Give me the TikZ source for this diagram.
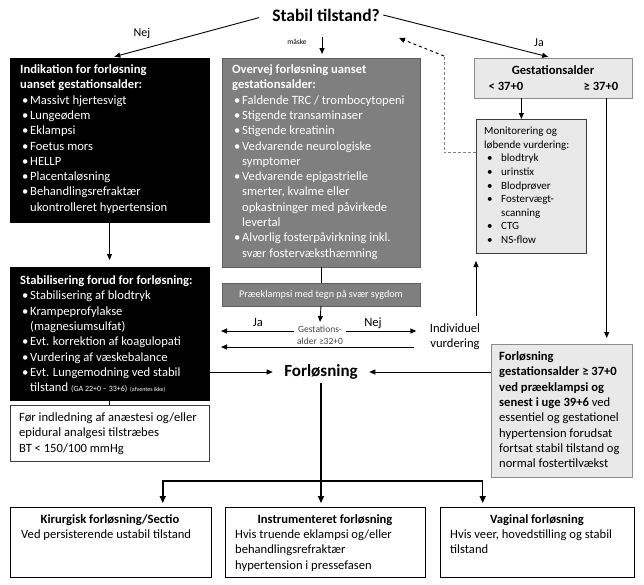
\documentclass[tikz,border=0pt]{standalone}
\usepackage{fontspec}
\setmainfont{Carlito}
\usepackage{tikz}
\usetikzlibrary{arrows.meta,calc}
\definecolor{midgrey}{RGB}{127,127,127}
\definecolor{midborder}{RGB}{95,95,95}
\definecolor{lightgrey}{RGB}{233,233,233}
\definecolor{lightborder}{RGB}{140,140,140}
\definecolor{darkline}{RGB}{60,60,60}
\definecolor{gatext}{RGB}{70,70,70}
\newcommand{\tekst}{\fontsize{12.6}{15.3}\selectfont}
\newcommand{\lille}{\fontsize{11}{13.6}\selectfont}
\newcommand{\pkt}{\hspace*{2pt}\makebox[8pt][l]{\textbullet}}
\newcommand{\ryk}{\hspace*{10pt}}
\newcommand{\mpkt}{\hspace*{3pt}\makebox[14pt][l]{\textbullet}}
\newcommand{\mryk}{\hspace*{17pt}}

\begin{document}
\begin{tikzpicture}[x=1pt,y=-1pt]
\tikzset{box/.style={anchor=north west,inner sep=0pt,outer sep=0pt},
  sortboks/.style={box,fill=black,draw=black},
  graaboks/.style={box,fill=midgrey,draw=midborder,line width=0.6pt},
  lysboks/.style={box,fill=lightgrey,draw=lightborder,line width=0.6pt},
  hvidboks/.style={box,fill=white,draw=darkline,line width=0.6pt},
  txt/.style={anchor=north west,inner sep=0pt,align=left,font=\tekst},
  pil/.style={-{Triangle[length=6pt,width=5pt]},line width=0.9pt},
  tykpil/.style={-{Triangle[length=7pt,width=6pt]},line width=1.6pt}}
\useasboundingbox[fill=white] (0,0) rectangle (644,584);
% Kasser
\node [font=\fontsize{17.5}{20}\selectfont\bfseries] (tilstand) at (326,15) {Stabil tilstand?};
\node [sortboks,minimum width=199pt,minimum height=164pt] (indik) at (10,58) {};
\node [txt,text=white] (indikT) at ($(indik.north west)+(10,6.5)$) {\textbf{Indikation for forløsning}\\
  \textbf{uanset gestationsalder:}\\ \pkt Massivt hjertesvigt\\ \pkt Lungeødem\\ \pkt Eklampsi\\
  \pkt Foetus mors\\ \pkt HELLP\\ \pkt Placentaløsning\\ \pkt Behandlingsrefraktær\\
  \ryk ukontrolleret hypertension};
\node [sortboks,minimum width=199pt,minimum height=133pt] (stabil) at (10,267) {};
\node [txt,text=white] (stabilT) at ($(stabil.north west)+(10,8.5)$) {\textbf{Stabilisering forud for forløsning:}\\
  \pkt Stabilisering af blodtryk\\ \pkt Krampeprofylakse\\ \ryk (magnesiumsulfat)\\
  \pkt Evt. korrektion af koagulopati\\ \pkt Vurdering af væskebalance\\
  \pkt Evt. Lungemodning ved stabil\\
  \ryk tilstand {\fontsize{8}{9}\selectfont (GA 22+0 – 33+6)} {\fontsize{6}{7}\selectfont (afventes ikke)}};
\node [hvidboks,minimum width=199pt,minimum height=56pt] (foer) at (10,405) {};
\node [txt] (foerT) at ($(foer.north west)+(9,7.5)$) {Før indledning af anæstesi og/eller\\
  epidural analgesi tilstræbes\\ BT < 150/100 mmHg};
\node [graaboks,minimum width=198pt,minimum height=209pt] (overvej) at (222,58) {};
\node [txt,text=white] (overvejT) at ($(overvej.north west)+(10,6.5)$) {\textbf{Overvej forløsning uanset}\\
  \textbf{gestationsalder:}\\ \pkt Faldende TRC / trombocytopeni\\ \pkt Stigende transaminaser\\
  \pkt Stigende kreatinin\\ \pkt Vedvarende neurologiske\\ \ryk symptomer\\
  \pkt Vedvarende epigastrielle\\ \ryk smerter, kvalme eller\\ \ryk opkastninger med påvirkede\\
  \ryk levertal\\ \pkt Alvorlig fosterpåvirkning inkl.\\ \ryk svær fostervæksthæmning};
\node [graaboks,minimum width=198pt,minimum height=23pt,text=white,font=\fontsize{10.2}{11}\selectfont] (praek) at (222,283) {Præeklampsi med tegn på svær sygdom};
\node [lysboks,minimum width=158pt,minimum height=40pt] (gest) at (474,58) {};
\node [font=\tekst\bfseries] (gestT) at (553,70) {Gestationsalder};
\node [font=\tekst\bfseries] (lav) at (506,86) {< 37+0};
\node [font=\tekst\bfseries] (hoej) at (601,86) {≥ 37+0};
\node [lysboks,draw=darkline,minimum width=110pt,minimum height=134pt] (monit) at (476,119) {};
\node [txt,font=\lille] (monitT) at ($(monit.north west)+(8,8)$) {Monitorering og\\ løbende vurdering:\\
  \mpkt blodtryk\\ \mpkt urinstix\\ \mpkt Blodprøver\\ \mpkt Fostervægt-\\ \mryk scanning\\
  \mpkt CTG\\ \mpkt NS-flow};
\node [lysboks,minimum width=141pt,minimum height=133pt] (forlgr) at (491,344) {};
\node [txt] (forlgrT) at ($(forlgr.north west)+(8,7.5)$) {\textbf{Forløsning}\\
  \textbf{gestationsalder ≥ 37+0}\\ \textbf{ved præeklampsi og}\\ \textbf{senest i uge 39+6} ved\\
  essentiel og gestationel\\ hypertension forudsat\\ fortsat stabil tilstand og\\ normal fostertilvækst};
\node [font=\fontsize{17}{20}\selectfont\bfseries] (forl) at (321,372) {Forløsning};
\node [hvidboks,draw=black,minimum width=201pt,minimum height=70pt] (kir) at (10,507) {};
\node [font=\tekst\bfseries] (kirT) at (110,520) {Kirurgisk forløsning/Sectio};
\node [txt] (kirB) at (21,529.5) {Ved persisterende ustabil tilstand};
\node [hvidboks,draw=black,minimum width=200pt,minimum height=70pt] (instr) at (225,507) {};
\node [font=\tekst\bfseries] (instrT) at (325,520) {Instrumenteret forløsning};
\node [txt] (instrB) at (235,529.5) {Hvis truende eklampsi og/eller\\ behandlingsrefraktær\\ hypertension i pressefasen};
\node [hvidboks,draw=black,minimum width=194pt,minimum height=70pt] (vag) at (440,507) {};
\node [font=\tekst\bfseries] (vagT) at (537,520) {Vaginal forløsning};
\node [txt] (vagB) at (450,529.5) {Hvis veer, hovedstilling og stabil\\ tilstand};
% Tekster ved pilene
\node [font=\fontsize{12}{13}\selectfont] (nejTop) at (142,33) {Nej};
\node [font=\fontsize{12}{13}\selectfont] (jaTop) at (539,43) {Ja};
\node [font=\fontsize{7.5}{9}\selectfont] (maskeT) at (297,42) {måske};
\node [font=\fontsize{9.5}{12.5}\selectfont,align=center,text=gatext] (ga) at (320,335) {Gestations-\\ alder ≥32+0};
\node [font=\tekst] (jaMid) at (258,322) {Ja};
\node [font=\tekst] (nejMid) at (373,323) {Nej};
\node [font=\tekst,align=center] (indiv) at (455,337) {Individuel\\ vurdering};
% Pile
\coordinate (maske) at (322,37);
\coordinate (stiplet) at (444,56);
\coordinate (stipletspids) at (399,38);
\coordinate (under) at ($(gest.south west)!0.3!(gest.south east)$);
\coordinate (over) at ($(gest.south west)!0.84!(gest.south east)$);
\coordinate (split) at (321,481);
\coordinate (kirP) at ($(kir.north west)!0.76!(kir.north east)$);
\coordinate (vagP) at ($(vag.north west)!0.22!(vag.north east)$);
\draw [pil,shorten <=10pt,shorten >=5pt] (tilstand.west) -- (indik.north);
\draw [pil,shorten >=5pt] (tilstand.east) -- (gest.north);
\draw [pil,shorten >=4pt] (maske) -- (maske |- overvej.north);
\draw [densely dashed,gray,line width=0.6pt] ($(monit.north west)!0.25!(monit.south west)$) -| (stiplet);
\draw [dashed,line width=1pt,-{Triangle[length=6pt,width=5pt]}] (stiplet) -- (stipletspids);
\draw [pil] (under) -- (under |- monit.north);
\draw [pil,shorten >=6pt] (over) -- (over |- forlgr.north);
\draw [pil,shorten <=4pt,shorten >=8pt] (monit.south west |- indiv.north) -- (monit.south west);
\draw [pil,shorten >=7pt] (indik.south) -- (stabil.north);
\draw [line width=0.6pt] (stabil.south) -- (foer.north);
\draw [line width=0.9pt] (overvej.south) -- (praek.north);
\draw [pil] (praek.south) -- (ga.north);
\draw [pil,shorten >=12pt] ([yshift=4pt]ga.west) -- ([yshift=4pt]ga.west -| stabil.east);
\draw [pil,shorten >=10pt] ([yshift=4pt]ga.east) -- ([yshift=4pt]ga.east -| indiv.west);
\draw [pil,shorten <=12pt,shorten >=12pt] ([yshift=-10pt]indiv.west) -- ([yshift=-10pt]indiv.west -| stabil.east);
\draw [pil,shorten >=8pt] (stabil.east |- forl.west) -- (forl.west);
\draw [pil,shorten >=8pt] (forlgr.west |- forl.east) -- (forl.east);
\draw [line width=1.6pt] (forl.south) -- (split);
\draw [tykpil,shorten >=4pt] (split) -| (kirP);
\draw [tykpil,shorten >=4pt] (split) -- (split |- instr.north);
\draw [tykpil,shorten >=4pt] (split) -| (vagP);
\end{tikzpicture}
\end{document}
